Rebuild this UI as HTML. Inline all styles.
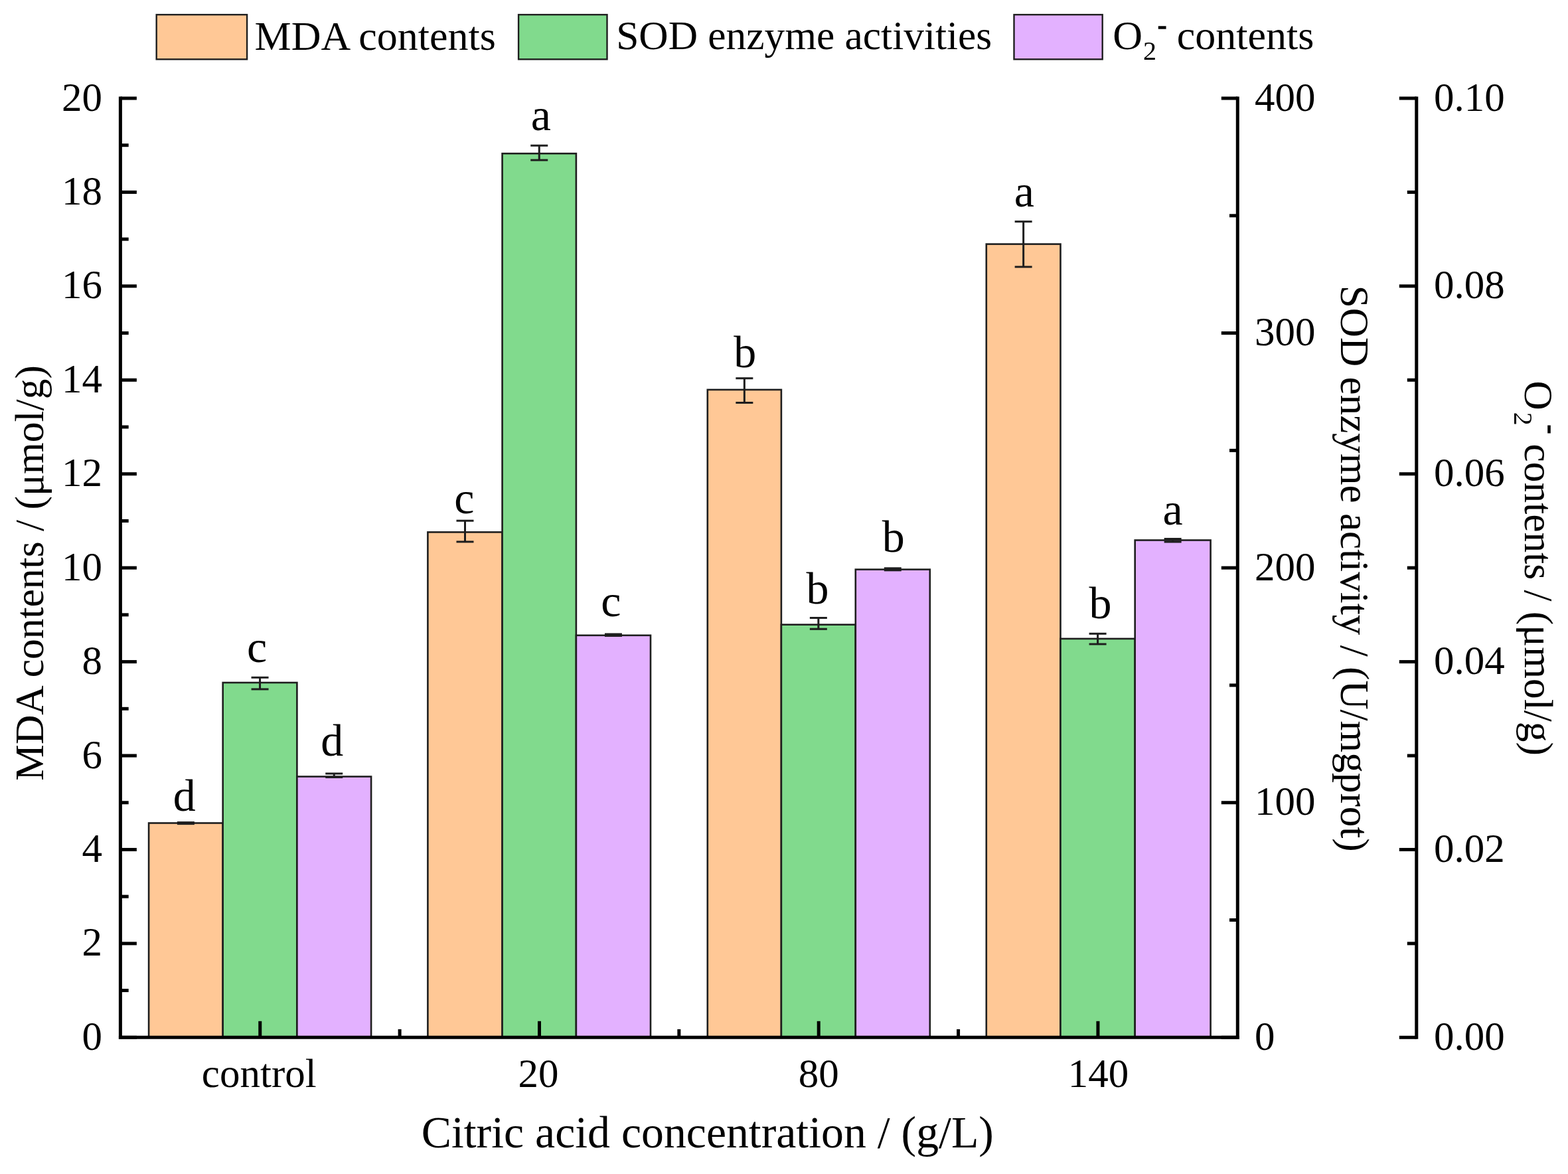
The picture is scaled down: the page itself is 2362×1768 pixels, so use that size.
<!DOCTYPE html>
<html><head><meta charset="utf-8"><title>MDA, SOD and O2- contents</title>
<style>html,body{margin:0;padding:0;background:#fff;width:2362px;height:1768px;overflow:hidden}</style>
</head><body>
<svg width="2362" height="1768" viewBox="0 0 2362 1768" style="position:absolute;left:0;top:0">
<rect x="0" y="0" width="2362" height="1768" fill="#ffffff"/>
<rect x="224.10" y="1239.50" width="111.60" height="322.80" fill="#FFC896" stroke="#1e1e1e" stroke-width="2.6"/>
<rect x="335.70" y="1028.00" width="111.70" height="534.30" fill="#81DA8D" stroke="#1e1e1e" stroke-width="2.6"/>
<rect x="447.40" y="1169.50" width="111.70" height="392.80" fill="#E3B1FF" stroke="#1e1e1e" stroke-width="2.6"/>
<rect x="644.40" y="801.40" width="112.20" height="760.90" fill="#FFC896" stroke="#1e1e1e" stroke-width="2.6"/>
<rect x="756.60" y="231.20" width="111.30" height="1331.10" fill="#81DA8D" stroke="#1e1e1e" stroke-width="2.6"/>
<rect x="867.90" y="956.80" width="112.10" height="605.50" fill="#E3B1FF" stroke="#1e1e1e" stroke-width="2.6"/>
<rect x="1065.80" y="586.90" width="111.10" height="975.40" fill="#FFC896" stroke="#1e1e1e" stroke-width="2.6"/>
<rect x="1176.90" y="940.70" width="111.90" height="621.60" fill="#81DA8D" stroke="#1e1e1e" stroke-width="2.6"/>
<rect x="1288.80" y="857.60" width="112.00" height="704.70" fill="#E3B1FF" stroke="#1e1e1e" stroke-width="2.6"/>
<rect x="1485.80" y="367.60" width="111.70" height="1194.70" fill="#FFC896" stroke="#1e1e1e" stroke-width="2.6"/>
<rect x="1597.50" y="961.90" width="112.20" height="600.40" fill="#81DA8D" stroke="#1e1e1e" stroke-width="2.6"/>
<rect x="1709.70" y="813.50" width="113.90" height="748.80" fill="#E3B1FF" stroke="#1e1e1e" stroke-width="2.6"/>
<g stroke="#1e1e1e" stroke-width="3" fill="none">
<line x1="279.90" y1="1238.60" x2="279.90" y2="1240.60"/>
<line x1="266.90" y1="1238.60" x2="292.90" y2="1238.60"/>
<line x1="266.90" y1="1240.60" x2="292.90" y2="1240.60"/>
</g>
<g stroke="#1e1e1e" stroke-width="3" fill="none">
<line x1="391.55" y1="1020.30" x2="391.55" y2="1037.90"/>
<line x1="378.55" y1="1020.30" x2="404.55" y2="1020.30"/>
<line x1="378.55" y1="1037.90" x2="404.55" y2="1037.90"/>
</g>
<g stroke="#1e1e1e" stroke-width="3" fill="none">
<line x1="503.25" y1="1165.00" x2="503.25" y2="1170.50"/>
<line x1="490.25" y1="1165.00" x2="516.25" y2="1165.00"/>
<line x1="490.25" y1="1170.50" x2="516.25" y2="1170.50"/>
</g>
<g stroke="#1e1e1e" stroke-width="3" fill="none">
<line x1="700.50" y1="784.20" x2="700.50" y2="815.90"/>
<line x1="687.50" y1="784.20" x2="713.50" y2="784.20"/>
<line x1="687.50" y1="815.90" x2="713.50" y2="815.90"/>
</g>
<g stroke="#1e1e1e" stroke-width="3" fill="none">
<line x1="812.25" y1="219.20" x2="812.25" y2="241.10"/>
<line x1="799.25" y1="219.20" x2="825.25" y2="219.20"/>
<line x1="799.25" y1="241.10" x2="825.25" y2="241.10"/>
</g>
<g stroke="#1e1e1e" stroke-width="3" fill="none">
<line x1="923.95" y1="955.00" x2="923.95" y2="957.50"/>
<line x1="910.95" y1="955.00" x2="936.95" y2="955.00"/>
<line x1="910.95" y1="957.50" x2="936.95" y2="957.50"/>
</g>
<g stroke="#1e1e1e" stroke-width="3" fill="none">
<line x1="1121.35" y1="569.70" x2="1121.35" y2="606.50"/>
<line x1="1108.35" y1="569.70" x2="1134.35" y2="569.70"/>
<line x1="1108.35" y1="606.50" x2="1134.35" y2="606.50"/>
</g>
<g stroke="#1e1e1e" stroke-width="3" fill="none">
<line x1="1232.85" y1="930.50" x2="1232.85" y2="947.30"/>
<line x1="1219.85" y1="930.50" x2="1245.85" y2="930.50"/>
<line x1="1219.85" y1="947.30" x2="1245.85" y2="947.30"/>
</g>
<g stroke="#1e1e1e" stroke-width="3" fill="none">
<line x1="1344.80" y1="855.80" x2="1344.80" y2="858.80"/>
<line x1="1331.80" y1="855.80" x2="1357.80" y2="855.80"/>
<line x1="1331.80" y1="858.80" x2="1357.80" y2="858.80"/>
</g>
<g stroke="#1e1e1e" stroke-width="3" fill="none">
<line x1="1541.65" y1="333.70" x2="1541.65" y2="401.90"/>
<line x1="1528.65" y1="333.70" x2="1554.65" y2="333.70"/>
<line x1="1528.65" y1="401.90" x2="1554.65" y2="401.90"/>
</g>
<g stroke="#1e1e1e" stroke-width="3" fill="none">
<line x1="1653.60" y1="954.30" x2="1653.60" y2="970.00"/>
<line x1="1640.60" y1="954.30" x2="1666.60" y2="954.30"/>
<line x1="1640.60" y1="970.00" x2="1666.60" y2="970.00"/>
</g>
<g stroke="#1e1e1e" stroke-width="3" fill="none">
<line x1="1766.65" y1="811.50" x2="1766.65" y2="816.00"/>
<line x1="1753.65" y1="811.50" x2="1779.65" y2="811.50"/>
<line x1="1753.65" y1="816.00" x2="1779.65" y2="816.00"/>
</g>
<text x="260.68" y="1221.02" font-family='"Liberation Serif", "Times New Roman", serif' font-size="68.0" fill="#000">d</text>
<text x="372.08" y="996.82" font-family='"Liberation Serif", "Times New Roman", serif' font-size="68.0" fill="#000">c</text>
<text x="483.28" y="1137.72" font-family='"Liberation Serif", "Times New Roman", serif' font-size="68.0" fill="#000">d</text>
<text x="684.28" y="772.72" font-family='"Liberation Serif", "Times New Roman", serif' font-size="68.0" fill="#000">c</text>
<text x="799.78" y="196.02" font-family='"Liberation Serif", "Times New Roman", serif' font-size="68.0" fill="#000">a</text>
<text x="905.28" y="928.42" font-family='"Liberation Serif", "Times New Roman", serif' font-size="68.0" fill="#000">c</text>
<text x="1105.20" y="553.32" font-family='"Liberation Serif", "Times New Roman", serif' font-size="68.0" fill="#000">b</text>
<text x="1214.50" y="908.82" font-family='"Liberation Serif", "Times New Roman", serif' font-size="68.0" fill="#000">b</text>
<text x="1328.70" y="831.02" font-family='"Liberation Serif", "Times New Roman", serif' font-size="68.0" fill="#000">b</text>
<text x="1527.68" y="310.52" font-family='"Liberation Serif", "Times New Roman", serif' font-size="68.0" fill="#000">a</text>
<text x="1640.40" y="930.82" font-family='"Liberation Serif", "Times New Roman", serif' font-size="68.0" fill="#000">b</text>
<text x="1751.58" y="789.52" font-family='"Liberation Serif", "Times New Roman", serif' font-size="68.0" fill="#000">a</text>
<g stroke="#000" stroke-width="5.0" fill="none" stroke-linecap="butt">
<line x1="181.4" y1="145.5" x2="181.4" y2="1564.8"/>
<line x1="178.9" y1="1562.3" x2="1866.8" y2="1562.3"/>
<line x1="1864.3" y1="145.5" x2="1864.3" y2="1564.8"/>
<line x1="2133.8" y1="145.5" x2="2133.8" y2="1564.8"/>
<line x1="181.4" y1="1562.30" x2="205.90" y2="1562.30"/>
<line x1="181.4" y1="1491.59" x2="193.70" y2="1491.59"/>
<line x1="181.4" y1="1420.87" x2="205.90" y2="1420.87"/>
<line x1="181.4" y1="1350.15" x2="193.70" y2="1350.15"/>
<line x1="181.4" y1="1279.44" x2="205.90" y2="1279.44"/>
<line x1="181.4" y1="1208.72" x2="193.70" y2="1208.72"/>
<line x1="181.4" y1="1138.01" x2="205.90" y2="1138.01"/>
<line x1="181.4" y1="1067.30" x2="193.70" y2="1067.30"/>
<line x1="181.4" y1="996.58" x2="205.90" y2="996.58"/>
<line x1="181.4" y1="925.87" x2="193.70" y2="925.87"/>
<line x1="181.4" y1="855.15" x2="205.90" y2="855.15"/>
<line x1="181.4" y1="784.43" x2="193.70" y2="784.43"/>
<line x1="181.4" y1="713.72" x2="205.90" y2="713.72"/>
<line x1="181.4" y1="643.01" x2="193.70" y2="643.01"/>
<line x1="181.4" y1="572.29" x2="205.90" y2="572.29"/>
<line x1="181.4" y1="501.58" x2="193.70" y2="501.58"/>
<line x1="181.4" y1="430.86" x2="205.90" y2="430.86"/>
<line x1="181.4" y1="360.14" x2="193.70" y2="360.14"/>
<line x1="181.4" y1="289.43" x2="205.90" y2="289.43"/>
<line x1="181.4" y1="218.71" x2="193.70" y2="218.71"/>
<line x1="181.4" y1="148.00" x2="205.90" y2="148.00"/>
<line x1="1839.80" y1="1562.30" x2="1864.3" y2="1562.30"/>
<line x1="1852.00" y1="1385.51" x2="1864.3" y2="1385.51"/>
<line x1="1839.80" y1="1208.72" x2="1864.3" y2="1208.72"/>
<line x1="1852.00" y1="1031.94" x2="1864.3" y2="1031.94"/>
<line x1="1839.80" y1="855.15" x2="1864.3" y2="855.15"/>
<line x1="1852.00" y1="678.36" x2="1864.3" y2="678.36"/>
<line x1="1839.80" y1="501.58" x2="1864.3" y2="501.58"/>
<line x1="1852.00" y1="324.79" x2="1864.3" y2="324.79"/>
<line x1="1839.80" y1="148.00" x2="1864.3" y2="148.00"/>
<line x1="2107.80" y1="1562.30" x2="2133.8" y2="1562.30"/>
<line x1="2119.80" y1="1420.87" x2="2133.8" y2="1420.87"/>
<line x1="2107.80" y1="1279.44" x2="2133.8" y2="1279.44"/>
<line x1="2119.80" y1="1138.01" x2="2133.8" y2="1138.01"/>
<line x1="2107.80" y1="996.58" x2="2133.8" y2="996.58"/>
<line x1="2119.80" y1="855.15" x2="2133.8" y2="855.15"/>
<line x1="2107.80" y1="713.72" x2="2133.8" y2="713.72"/>
<line x1="2119.80" y1="572.29" x2="2133.8" y2="572.29"/>
<line x1="2107.80" y1="430.86" x2="2133.8" y2="430.86"/>
<line x1="2119.80" y1="289.43" x2="2133.8" y2="289.43"/>
<line x1="2107.80" y1="148.00" x2="2133.8" y2="148.00"/>
<line x1="391.76" y1="1562.3" x2="391.76" y2="1537.80"/>
<line x1="812.49" y1="1562.3" x2="812.49" y2="1537.80"/>
<line x1="1233.21" y1="1562.3" x2="1233.21" y2="1537.80"/>
<line x1="1653.94" y1="1562.3" x2="1653.94" y2="1537.80"/>
<line x1="602.12" y1="1562.3" x2="602.12" y2="1550.00"/>
<line x1="1022.85" y1="1562.3" x2="1022.85" y2="1550.00"/>
<line x1="1443.58" y1="1562.3" x2="1443.58" y2="1550.00"/>
</g>
<g font-family='"Liberation Serif", "Times New Roman", serif' font-size="61.0" fill="#000">
<text x="154.0" y="1580.80" text-anchor="end">0</text>
<text x="154.0" y="1439.37" text-anchor="end">2</text>
<text x="154.0" y="1297.94" text-anchor="end">4</text>
<text x="154.0" y="1156.51" text-anchor="end">6</text>
<text x="154.0" y="1015.08" text-anchor="end">8</text>
<text x="154.0" y="873.65" text-anchor="end">10</text>
<text x="154.0" y="732.22" text-anchor="end">12</text>
<text x="154.0" y="590.79" text-anchor="end">14</text>
<text x="154.0" y="449.36" text-anchor="end">16</text>
<text x="154.0" y="307.93" text-anchor="end">18</text>
<text x="154.0" y="166.50" text-anchor="end">20</text>
<text x="1890.0" y="1580.80">0</text>
<text x="1890.0" y="1227.22">100</text>
<text x="1890.0" y="873.65">200</text>
<text x="1890.0" y="520.08">300</text>
<text x="1890.0" y="166.50">400</text>
<text x="2160.0" y="1580.80">0.00</text>
<text x="2160.0" y="1297.94">0.02</text>
<text x="2160.0" y="1015.08">0.04</text>
<text x="2160.0" y="732.22">0.06</text>
<text x="2160.0" y="449.36">0.08</text>
<text x="2160.0" y="166.50">0.10</text>
<text x="390.26" y="1637.0" text-anchor="middle">control</text>
<text x="810.99" y="1637.0" text-anchor="middle">20</text>
<text x="1233.21" y="1637.0" text-anchor="middle">80</text>
<text x="1654.44" y="1637.0" text-anchor="middle">140</text>
</g>
<text x="634.7" y="1727.5" font-family='"Liberation Serif", "Times New Roman", serif' font-size="67.8" fill="#000">Citric acid concentration / (g/L)</text>
<text transform="translate(64.8,1175.8) rotate(-90)" font-family='"Liberation Serif", "Times New Roman", serif' font-size="61.5" fill="#000">MDA contents / (μmol/g)</text>
<text transform="translate(2020.4,429.7) rotate(90)" font-family='"Liberation Serif", "Times New Roman", serif' font-size="61.2" fill="#000">SOD enzyme activity / (U/mgprot)</text>
<text transform="translate(2297.2,573.5) rotate(90)" font-family='"Liberation Serif", "Times New Roman", serif' font-size="61.4" fill="#000">O<tspan font-size="40" dx="3" dy="16">2</tspan><tspan font-size="40" dx="-1" dy="-43" stroke="#000" stroke-width="1.6">-</tspan><tspan font-size="61.4" dx="0" dy="27"> contents / (μmol/g)</tspan></text>
<rect x="235.70" y="22.10" width="136.40" height="67.20" fill="#FFC896" stroke="#1e1e1e" stroke-width="2.4"/>
<rect x="781.10" y="22.10" width="133.40" height="67.20" fill="#81DA8D" stroke="#1e1e1e" stroke-width="2.4"/>
<rect x="1527.50" y="22.10" width="133.20" height="67.20" fill="#E3B1FF" stroke="#1e1e1e" stroke-width="2.4"/>
<g font-family='"Liberation Serif", "Times New Roman", serif' font-size="62" fill="#000">
<text x="383.5" y="74.5">MDA contents</text>
<text x="928.2" y="74.0" font-size="61.4">SOD enzyme activities</text>
<text x="1676.2" y="73.5">O<tspan font-size="40" dx="1" dy="16">2</tspan><tspan font-size="40" dx="2" dy="-39" stroke="#000" stroke-width="1.4">-</tspan><tspan font-size="62" dy="23"> contents</tspan></text>
</g>
</svg>
</body></html>
